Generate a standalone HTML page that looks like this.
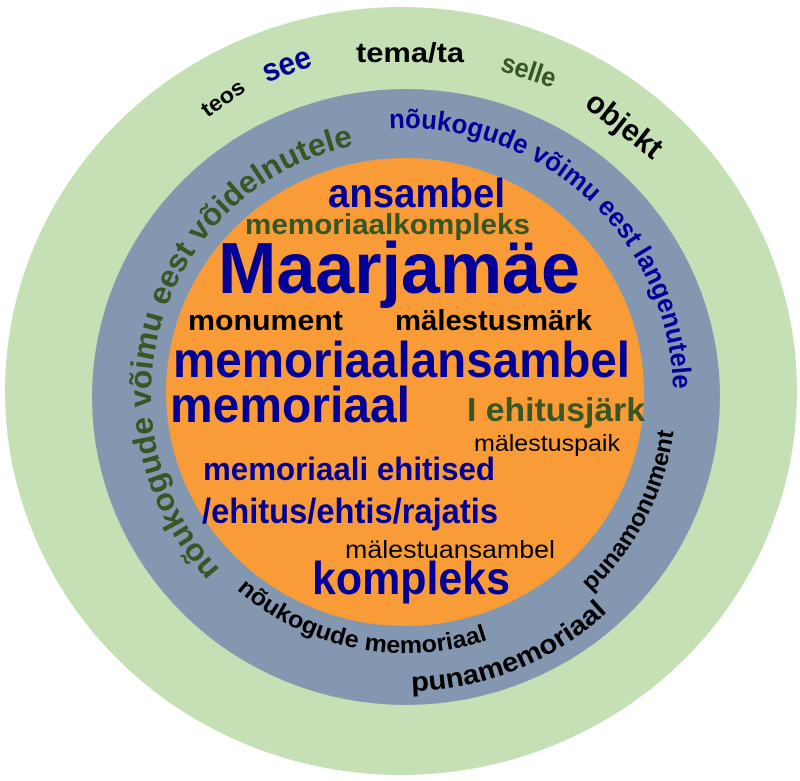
<!DOCTYPE html>
<html><head><meta charset="utf-8"><style>
html,body{margin:0;padding:0;background:#fff;}
svg{display:block;}
text{font-family:"Liberation Sans",sans-serif;}
</style></head><body>
<svg width="800" height="781" viewBox="0 0 800 781" xmlns="http://www.w3.org/2000/svg">
<defs>
<path id="cwG" d="M406,650 A255,255 0 1 1 406,140 A255,255 0 1 1 406,650"/>
<path id="cwB" d="M406,662 A267,267 0 1 1 406,128 A267,267 0 1 1 406,662"/>
<path id="ccw1" d="M148,395 A258,258 0 1 0 664,395 A258,258 0 1 0 148,395"/>
<path id="ccw2" d="M110,395 A296,296 0 1 0 702,395 A296,296 0 1 0 110,395"/>
<path id="ccw3" d="M136,395 A270,270 0 1 0 676,395 A270,270 0 1 0 136,395"/>
</defs>
<ellipse cx="401" cy="391" rx="396" ry="384" fill="#c5e0b4"/>
<ellipse cx="406" cy="397" rx="314" ry="308" fill="#8497b0"/>
<ellipse cx="405" cy="392" rx="239" ry="234" fill="#f99b36"/>

<!-- outer words -->
<text x="0" y="0" transform="translate(227,104) rotate(-35)" text-anchor="middle" font-size="22" font-weight="bold" fill="#000" textLength="48" lengthAdjust="spacingAndGlyphs">teos</text>
<text x="0" y="0" transform="translate(290,74) rotate(-20)" text-anchor="middle" font-size="32" font-weight="bold" fill="#000099" textLength="50" lengthAdjust="spacingAndGlyphs">see</text>
<text x="410" y="62" text-anchor="middle" font-size="28" font-weight="bold" fill="#000" textLength="108" lengthAdjust="spacingAndGlyphs">tema/ta</text>
<text x="0" y="0" transform="translate(526,79) rotate(18)" text-anchor="middle" font-size="27" font-weight="bold" fill="#375623" textLength="56" lengthAdjust="spacingAndGlyphs">selle</text>
<text x="0" y="0" transform="translate(618,133) rotate(38)" text-anchor="middle" font-size="31" font-weight="bold" fill="#000" textLength="88" lengthAdjust="spacingAndGlyphs">objekt</text>

<!-- ring texts -->
<text font-size="31" font-weight="bold" fill="#375623"><textPath href="#cwG" startOffset="13%" textLength="540" lengthAdjust="spacingAndGlyphs">nõukogude võimu eest võidelnutele</textPath></text>
<text font-size="27" font-weight="bold" fill="#000099"><textPath href="#cwB" startOffset="49%" textLength="430" lengthAdjust="spacingAndGlyphs">nõukogude võimu eest langenutele</textPath></text>
<text font-size="24" font-weight="bold" fill="#000"><textPath href="#ccw1" startOffset="13.6%" textLength="268" lengthAdjust="spacingAndGlyphs">nõukogude memoriaal</textPath></text>
<text font-size="27" font-weight="bold" fill="#000"><textPath href="#ccw2" startOffset="25.3%" textLength="216" lengthAdjust="spacingAndGlyphs">punamemoriaal</textPath></text>
<text font-size="24" font-weight="bold" fill="#000"><textPath href="#ccw3" startOffset="37%" textLength="184" lengthAdjust="spacingAndGlyphs">punamonument</textPath></text>

<!-- centre -->
<text x="328" y="207" font-size="41" font-weight="bold" fill="#000099" textLength="177" lengthAdjust="spacingAndGlyphs">ansambel</text>
<text x="245" y="234" font-size="29" font-weight="bold" fill="#375623" textLength="285" lengthAdjust="spacingAndGlyphs">memoriaalkompleks</text>
<text x="218" y="293" font-size="72" font-weight="bold" fill="#000099" textLength="362" lengthAdjust="spacingAndGlyphs">Maarjamäe</text>
<text x="188" y="330" font-size="29" font-weight="bold" fill="#000" textLength="155" lengthAdjust="spacingAndGlyphs">monument</text>
<text x="395" y="330" font-size="29" font-weight="bold" fill="#000" textLength="197" lengthAdjust="spacingAndGlyphs">mälestusmärk</text>
<text x="173" y="377" font-size="50" font-weight="bold" fill="#000099" textLength="457" lengthAdjust="spacingAndGlyphs">memoriaalansambel</text>
<text x="170" y="422" font-size="50" font-weight="bold" fill="#000099" textLength="240" lengthAdjust="spacingAndGlyphs">memoriaal</text>
<text x="467" y="421" font-size="33" font-weight="bold" fill="#375623" textLength="178" lengthAdjust="spacingAndGlyphs">I ehitusjärk</text>
<text x="474" y="451" font-size="23" fill="#000" textLength="146" lengthAdjust="spacingAndGlyphs">mälestuspaik</text>
<text x="203" y="480" font-size="32" font-weight="bold" fill="#000099" textLength="292" lengthAdjust="spacingAndGlyphs">memoriaali ehitised</text>
<text x="202" y="523" font-size="35" font-weight="bold" fill="#000099" textLength="296" lengthAdjust="spacingAndGlyphs">/ehitus/ehtis/rajatis</text>
<text x="345" y="558" font-size="25" fill="#000" textLength="210" lengthAdjust="spacingAndGlyphs">mälestuansambel</text>
<text x="312" y="594" font-size="46" font-weight="bold" fill="#000099" textLength="198" lengthAdjust="spacingAndGlyphs">kompleks</text>
</svg>
</body></html>
